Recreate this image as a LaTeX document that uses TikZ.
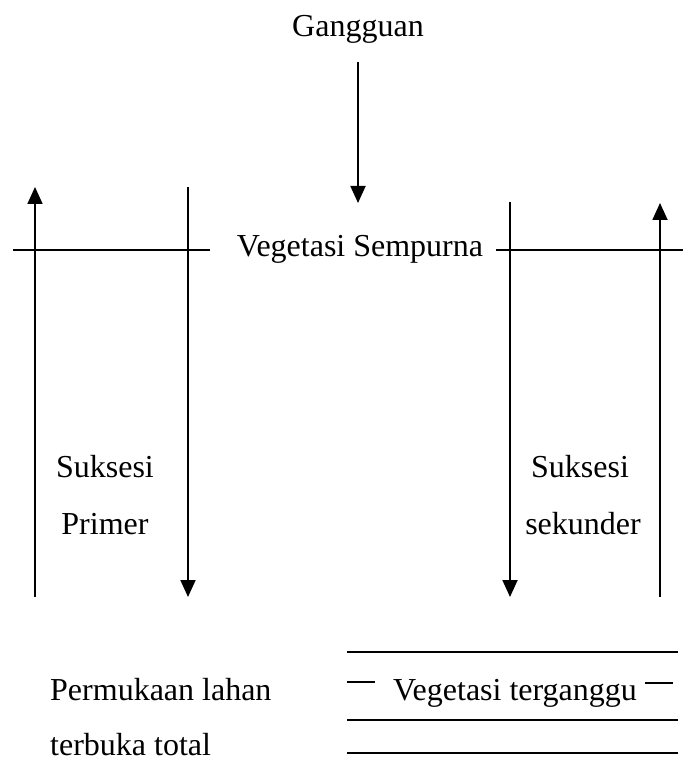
\documentclass[tikz,border=0pt]{standalone}
\usepackage{fontspec}
\setmainfont{Liberation Serif}
\usetikzlibrary{arrows.meta}
\begin{document}
\begin{tikzpicture}[x=1pt,y=-1pt,
  ln/.style={line width=1.8pt},
  arr/.style={ln,-{Triangle[length=17pt,width=15pt]}},
  lbl/.style={inner sep=0pt,font=\fontsize{32}{38}\selectfont,anchor=base}]
\useasboundingbox (0,0) rectangle (683,783);
% texts
\node[lbl] (gang) at (358,37) {Gangguan};
\node[lbl] (vs) at (360,257) {Vegetasi Sempurna};
\node[lbl] (s1) at (105,477) {Suksesi};
\node[lbl] (p1) at (105,534) {Primer};
\node[lbl] (s2) at (580,477) {Suksesi};
\node[lbl] (p2) at (583,534) {sekunder};
\node[lbl] (vt) at (515,700) {Vegetasi terganggu};
\node[lbl,anchor=base west] (pl) at (50,700) {Permukaan lahan};
\node[lbl,anchor=base west] (tt) at (50,755) {terbuka total};
% coordinates
\coordinate (c0) at (358,62);
\coordinate (c1) at (358,203);
\coordinate (h1a) at (13,250);
\coordinate (h1b) at (210,250);
\coordinate (h2a) at (496,250);
\coordinate (h2b) at (683,250);
\coordinate (la) at (35,597);
\coordinate (lb) at (35,187);
\coordinate (ma) at (188,187);
\coordinate (mb) at (188,597);
\coordinate (na) at (510,202);
\coordinate (nb) at (510,597);
\coordinate (ra) at (660,597);
\coordinate (rb) at (660,203);
\coordinate (b1a) at (347,652);
\coordinate (b1b) at (678,652);
\coordinate (b2a) at (347,720);
\coordinate (b2b) at (678,720);
\coordinate (b3a) at (347,753);
\coordinate (b3b) at (678,753);
\coordinate (d1a) at (347,682);
\coordinate (d1b) at (375,682);
\coordinate (d2a) at (645,683);
\coordinate (d2b) at (673,683);
% lines
\draw[arr] (c0) -- (c1);
\draw[ln] (h1a) -- (h1b);
\draw[ln] (h2a) -- (h2b);
\draw[arr] (la) -- (lb);
\draw[arr] (ma) -- (mb);
\draw[arr] (na) -- (nb);
\draw[arr] (ra) -- (rb);
\draw[ln] (b1a) -- (b1b);
\draw[ln] (b2a) -- (b2b);
\draw[ln] (b3a) -- (b3b);
\draw[ln] (d1a) -- (d1b);
\draw[ln] (d2a) -- (d2b);
\end{tikzpicture}
\end{document}
